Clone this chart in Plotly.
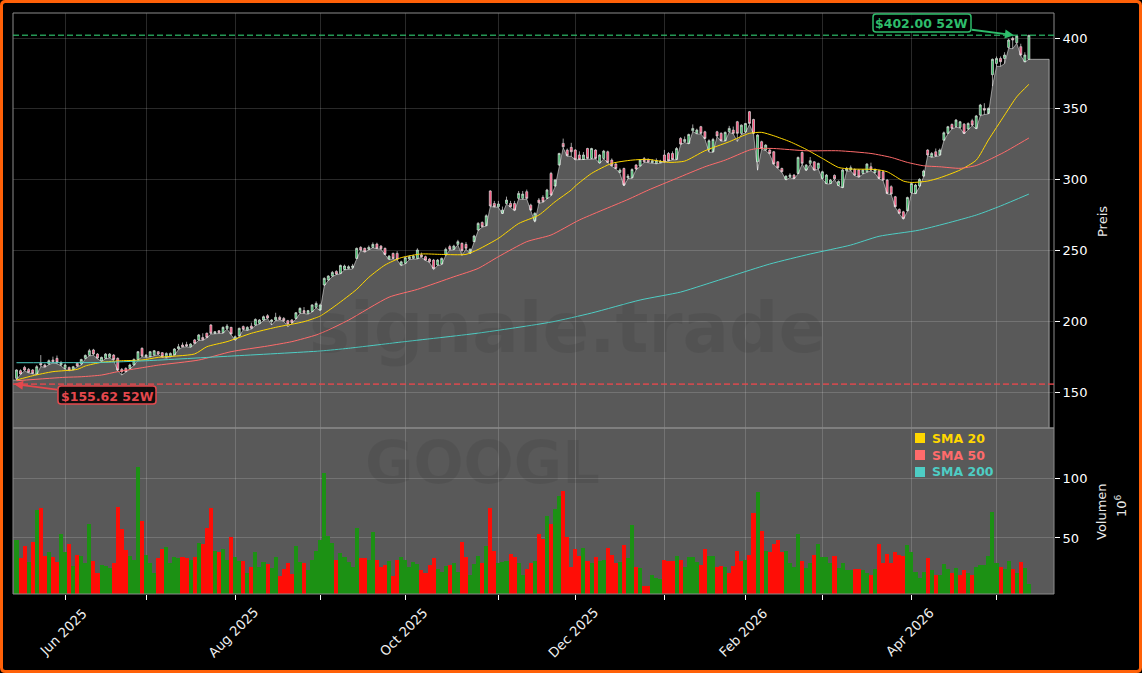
# GOOGL 52 week chart with candles, SMAs and volume
import plotly.graph_objects as go

W, H = 1142, 673

# daily candles
opens = [
    159.7,165.1,167.4,166,165.6,162.7,170.3,169.1,169.8,172.6,
    173.8,169.1,166.7,167.4,166,170.3,169.8,173.8,175.9,179.7,
    176.8,172.1,173.8,174.5,176.1,173.8,166,166.7,166.7,169.1,
    173,180.9,175,175,176.1,178.5,177.8,174.5,175,176.2,
    180.6,183.2,183.5,182,186.8,186.8,188.5,191.5,197.3,191.5,
    193.3,191.9,194.8,195.7,187.2,189.6,196.2,193.8,196.6,197.3,
    198.5,200.9,203.9,199.7,200.9,202.8,202,200.4,200.9,202,
    206,207.5,205.6,206.8,209.8,208,225.6,229.1,231.9,235.2,
    233.8,236.6,237.3,238,244.4,252.2,251.5,250.8,252.2,254.5,
    253.1,251.5,243.9,247.9,247.9,239.7,240.9,243.9,244.4,244.4,
    246.8,245.6,243.9,243.2,239.7,240.4,246.8,252.7,250.8,254.3,
    255,254.3,248,256.2,264.4,269.8,267.5,292,283.2,280.9,
    276.2,283.2,283.2,283.2,286.8,286.8,291.5,282,271,285.6,
    287.5,286.8,304.4,295.5,310.3,325.6,320.9,322.8,320.9,317.4,
    314.3,322,315,320.9,311.9,315,319.7,313.8,311,305.1,
    307.9,301.3,301.3,310.3,309.6,314.8,314.3,312,311.5,312,
    317.4,318.5,318.5,314.3,329.1,326.8,325.6,334.5,332.7,337.4,
    333.8,320.9,319.7,333.8,332.7,327.5,333.8,335,340.9,332.7,
    333.8,348,342.5,312.6,326.8,320.9,320.9,319.7,312.6,307.9,
    300.2,302,303.2,304.4,319.2,306.8,311.5,312.6,308,300.9,
    297.3,297.3,303,295.9,294.5,306.3,306.8,307.2,306.8,304.4,
    305.6,309.1,304.9,306.3,305.6,299.7,295,287.9,279,277.3,
    278,290.8,290.3,295.5,302.5,320.9,316.2,319.7,317.4,327.9,
    332.7,339,337.4,336.9,339.2,335.7,341.6,336.2,345.6,350.3,
    346.8,374.1,382.1,385.6,385.6,393.4,399.8,396.7,393.9,383.3,385,
]
highs = [
    166,166,168.5,167,166.2,169,176.1,170,173,175,
    175.8,172,170,168,168.5,171,173.5,176.5,180.5,180.5,
    177.5,175,177.5,177.5,176.8,174.5,167,167.5,170,173.8,
    179,181.5,176.8,179,179.7,179,178.2,178,178,181,
    184,185,185.5,184.5,187.5,191,191.5,192,198,193,
    193.8,196.3,198,196,190,195.5,197,196.5,199,202,
    201.5,204,205,201.5,206,204,203,201,201.5,206.5,
    209.8,210,208,212,214,212.5,231,232.5,235.5,236,
    240,240,239.5,240.5,252,253,252,253.5,255.7,255.5,
    253.8,252,246.8,248.5,249.5,242.8,245.5,246.5,247,251.5,
    248.5,246.3,244.5,244,244,245,252,254,254,257.5,
    255.7,256,251.5,261,270,270.5,275.5,292.5,285,285,
    281,288,285,285,292,292,293,283,277,287,
    289,293.5,305.5,300.5,319,329,322,326,321.5,320,
    319.5,322.5,322.5,321.5,318,321,320.5,315,312,308,
    308.5,304,308,311,314.5,316,315,314.5,315,314,
    321,319.5,320,323,330,330.5,332.5,339,336,338,
    334.5,328.5,329.5,334.5,333.5,334,338,337.5,341.5,339,
    340,348.5,343,332,327.5,325,321.5,320.3,313,308.5,
    303,304.5,304,316.3,320,311,316,313,312,306.3,
    304,300.5,303.7,299.5,307.5,309,310,308,307.5,307.5,
    311.7,312,308,307,306.3,300.5,296,288.5,279.7,278,
    288,298,297,301,307,321.5,319.5,322,322,334,
    338,339.7,342.8,341.5,340,340.5,343,345.7,353.5,354,
    351,385.5,387,387,390,399.5,401,402,396,390,402,
]
lows = [
    158.5,162.5,165,163.5,163,162.3,168,167.5,169.3,170.5,
    170,168.5,166,165,165.5,168,169,173.5,175.5,176,
    173.5,171.5,173.5,174,172.5,165,162,164,166.3,168.8,
    172.5,175,174.5,174.8,175.8,176.4,174.5,174,174.8,176,
    180,181.7,182,181.5,184,186.5,186.5,188.2,191,191,
    191.5,191.5,194.5,190.7,186.5,189.2,194,193.5,194.5,197,
    198,200.5,202,197.3,200.5,201,200,196.2,198.5,201.5,
    205.5,205.5,205,206.5,209.5,207.5,225,228.8,231.5,233,
    233.5,236.3,236.8,237,244,250,248.8,250.3,252,251.2,
    251,247,243.5,244,243.3,239.2,240.5,243.5,244,244,
    245.2,243,241.5,236.5,239.3,240,246.5,250.3,250.5,254,
    246.5,251,247.7,256,264,266.5,267.2,281,280.5,280.5,
    275.8,282.8,280.5,278,286.3,286,286.3,278,270,283.3,
    284,286.5,288.5,295,310,322.5,316.5,316.5,314,314,
    314,314.5,314.5,314.7,311.5,314.7,312,309.5,307.5,304.7,
    295.5,300.8,301,307,309.3,312.3,312,311.7,311.2,311.7,
    312.3,313,314,314,324.8,326.3,325.2,334,332.3,332.3,
    328.7,319.5,319.3,330.4,327.2,327.2,333.5,332.3,327,332,
    333,339,332.3,306.7,321.5,320.5,318,310.7,308,305.2,
    299.7,301.5,300.5,304,311,306.3,311,306.5,307.5,300.5,
    297,297,300.2,295.5,294.2,306,306.3,302.8,301.7,304,
    305.2,306.3,304.5,300.5,299.3,290,289.5,280.5,276,272,
    277.7,290.4,290,295,302,317,315.7,316.3,317,327.5,
    332.3,335.8,337,336.5,332.3,335.3,338.2,335.8,345.2,346,
    346.4,366,380,380,382,392.7,392.5,396.3,387.5,383,385,
]
closes = [
    165.6,162.7,165.5,163.9,163.2,167.9,169.1,167.9,172.1,171.4,
    170.7,170.7,169.1,165.5,167.9,168.4,173,175.9,179.2,176.8,
    174,174.5,176.8,176.8,173,165.5,164.4,164.4,169.1,173,
    178.5,175.4,176.1,178.5,179.2,176.8,175,177.3,177.3,180.4,
    182,182,182.5,183.9,184.4,190.3,187,188.6,191.5,192.6,
    191.9,195.7,196.6,191,189.1,195,194.3,195.7,195,201.3,
    200.9,203.2,202.3,200.9,202.8,201.3,200.4,198,199,206,
    209.1,206,207.5,211.5,212.6,211.5,230.3,231.9,234.5,233.3,
    239.4,239,238.5,239,251.5,250.3,249.1,252.2,254.3,251.5,
    251.2,247.2,246,244.4,243.7,242,244.9,245.6,246,250.3,
    245.6,243.2,242,237.3,243.2,244.4,250.8,250.8,253.1,256.2,
    249.8,251.5,250.8,260.2,269.1,266.8,274.5,281.4,280.9,282.8,
    278.5,285.6,280.9,278.5,290.3,289.8,286.8,278.5,276.2,283.7,
    284.4,292.7,289.1,299.7,318.5,323.2,317,319.7,314.3,314.3,
    317.4,315,322,315,317.4,320.2,312.2,309.8,307.9,306.8,
    296.2,302.5,307.2,307.5,313.8,312.6,312.4,313.4,313.4,313.1,
    312.6,313.4,314.3,322,325.1,328.4,331.9,336.2,335,332.7,
    329.1,327.5,328.4,330.8,327.5,333.4,336.2,332.7,332.7,338.5,
    339.7,339.7,332.7,331.5,322,324.4,318.5,311,308.4,305.6,
    302.5,303.2,300.9,315.7,311.5,310.3,313.4,306.8,311.5,305.6,
    303.2,299.7,300.6,298.8,306.8,307.9,308.4,303.2,302,306.8,
    311,306.8,307.2,300.9,299.7,290.3,289.8,280.9,276.2,272.6,
    287.4,297.3,296.2,300.2,306.1,317.4,318.5,316.7,320.9,333.1,
    337.4,336.2,342.1,340.9,332.7,339.7,338.5,345,352.7,349.1,
    350.3,385,385.6,383.3,388,398.6,398.6,401.4,388,388,402,
]

# volume in millions and the colour of each bar
volume = [
    48.6,33,43,30,47,73,75,35,38,34.4,
    30,53,38,45,27,36,35,29,62,31,
    21,27.5,27,25,29,76,57.5,40,35,32,
    109,64,36,29,21,33.6,40.5,42.5,29,34,
    33,34,33,32,34,46,45,58,75,39,
    38,41,32,51,34,31,31,21,26,38,
    25.5,30,28,25,34,18,24,29,20,43,
    30,29,23.4,31.7,39.5,48,104,51.7,46,31.7,
    37.5,34.4,30,26,58,33.6,33.6,31.7,55,32,
    26,27.8,31,18,32,34,31.7,25.5,30,28,
    23,21,27.8,33,24,21.7,27,27.8,29.4,22,
    47,34.4,19.4,28,35,29.4,43.6,75,39.5,29.4,
    29.7,30.5,37,34.4,29,19.4,24,29.4,31,53,
    49.4,68,61.7,74,85,89.4,51,26,41,35,
    41.7,31,29,34,30.8,32,42,36,29,30,
    44,33,60.6,26,25,10,10,19,17,16,
    32,31,31,35,32,26,34,34,29.7,27.8,
    40.5,35,35,26,26.7,26,21,26.7,39.5,31,
    32,36,71,88.6,56,39.5,38,45,48,38,
    39.5,29,25.5,53,31,25,29.4,36,45,34,
    34,29.4,35,25,29.4,23,23,24,24,23.4,
    21,19.4,24,45,29.4,37,29.4,38,36,35,
    44,38,21.6,17,22,33,23,19,19,28,
    24,20.5,25,19,23,20.6,19,26,27.8,27.8,
    35,71.7,29.4,26,24,31,24,21,30,25,11.7,
]
volume_dir = (
    "GRRGRGRRGR" "RGGRGRGGGR" "RGGGRRRRGG" "GRGGGRRGGG" "GRRGRGRRRG"
    "RGGRGGRGRG" "GGRGGRRRRG" "GRGGGGGGGR" "GGGGGRRGGR" "RRGRRGGGGG"
    "RRRRGGGRGG" "RRGGGRGRRG" "GGRRGGRRGR" "RGRGGRRRRR" "GRGRGGRRRG"
    "RGGRGRRGGG" "RRRGRGGGGR" "RGGRRGRRRR" "GRRGRGRRRR" "GGGGRGGRGG"
    "GGRGGGGRRG" "GRGRRRRRRR" "GGGGGRGRGG" "GRGRRGRGGG" "GGGRGGRGRGG"
)

# moving averages: bar number and value
sma20_x = [0, 4, 9, 15, 17, 21, 26, 31, 35, 44, 47, 52, 58, 64, 71, 75, 79, 84, 87, 91, 95,
           100, 105, 111, 114, 119, 124, 129, 133, 137, 138, 142, 147, 152, 156, 161, 165,
           170, 176, 181, 184, 187, 191, 195, 199, 203, 206, 212, 215, 219, 221, 225, 228,
           233, 237, 240, 244, 247, 250]
sma20 = [158.5, 161.5, 164.4, 166, 168.4, 171, 172.1, 172.6, 174.5, 176.9, 182, 185.6, 191.5,
         195.7, 199.7, 203.7, 211.5, 222.5, 231, 239.7, 244.9, 247.5, 247.2, 247.2, 250.7,
         258.5, 269, 275, 284.4, 292.7, 295.5, 304.4, 311.5, 313.8, 314.3, 312.2, 313.1,
         320.4, 326.8, 332.7, 333.4, 331, 326.8, 321.4, 315, 308.6, 307.5, 307.2, 305.6,
         299, 298, 299, 301.3, 306.8, 313.8, 328, 345.6, 358.5, 367.3]
sma50_x = [0, 12, 16, 21, 25, 30, 35, 45, 53, 62, 68, 74, 77, 82, 92, 99, 108, 114, 119, 126,
           132, 139, 151, 156, 163, 170, 175, 181, 183, 187, 195, 203, 211, 216, 220, 224,
           228, 233, 237, 240, 244, 247, 250]
sma50 = [158, 160.4, 160.8, 162, 164.4, 166.7, 169, 172.6, 178.5, 182.5, 185.6, 190.3, 193.8,
         200.8, 217, 222.5, 231.4, 237.3, 245.6, 256.2, 260.9, 271.5, 286, 292.6, 300.9,
         309.1, 313.8, 320.9, 322, 322, 320.4, 320.4, 318.5, 315.7, 312.2, 309.8, 309.1,
         308, 310, 313.8, 319.5, 324.4, 329.4]
sma200_x = [0, 21, 32, 53, 75, 82, 95, 114, 132, 142, 154, 164, 169, 186, 196, 206, 213, 223,
            237, 243, 250]
sma200 = [170.7, 170.9, 172.1, 175.4, 179, 180.9, 185.3, 191.6, 199.4, 205.8, 215, 220.6, 225,
          240.4, 247.5, 253.8, 260, 264.4, 275, 281.4, 289.8]

high_52w = 402.00
low_52w = 155.62

tick_pos = [12, 32, 54, 75, 96, 119, 138, 160, 180, 199, 221, 242]
tick_names = {12: "Jun 2025", 54: "Aug 2025", 96: "Oct 2025",
              138: "Dec 2025", 180: "Feb 2026", 221: "Apr 2026"}

FONT = "DejaVu Sans"
GREEN = "#2ebd6b"
RED = "#e5484d"
SMA_COLORS = {"SMA 20": "#FFD700", "SMA 50": "#FF6B6B", "SMA 200": "#4ECDC4"}
GRID = "rgba(255,255,255,0.16)"


# pixel helpers for the things that sit on the page, not on the data
def px(x):
    return x / W


def py(y):
    return 1 - y / H


def round_box(x0, y0, x1, y1, r, **kw):
    path = (f"M {px(x0 + r)} {py(y0)} L {px(x1 - r)} {py(y0)} Q {px(x1)} {py(y0)} {px(x1)} {py(y0 + r)} "
            f"L {px(x1)} {py(y1 - r)} Q {px(x1)} {py(y1)} {px(x1 - r)} {py(y1)} "
            f"L {px(x0 + r)} {py(y1)} Q {px(x0)} {py(y1)} {px(x0)} {py(y1 - r)} "
            f"L {px(x0)} {py(y0 + r)} Q {px(x0)} {py(y0)} {px(x0 + r)} {py(y0)} Z")
    return dict(type="path", xref="paper", yref="paper", path=path, **kw)


def page_text(text, x, y, **kw):
    return dict(text=text, xref="paper", yref="paper", x=px(x), y=py(y), xanchor="center",
                yanchor="middle", showarrow=False, **kw)


fig = go.Figure()

# grey area under the lows, runs a little past the last bar
area_x = [-1] + list(range(len(lows))) + [251, 252, 253, 254, 255, 255]
area_y = [lows[0]] + lows + [lows[-1]] * 5 + [0]
fig.add_trace(go.Scatter(x=area_x, y=area_y, mode="lines", fill="tozeroy",
                         fillcolor="rgba(255,255,255,0.35)",
                         line=dict(color="rgba(255,255,255,0.5)", width=1),
                         hoverinfo="skip", showlegend=False))

idx = list(range(len(closes)))
fig.add_trace(go.Candlestick(x=idx, open=opens, high=highs, low=lows, close=closes,
                             whiskerwidth=0, showlegend=False,
                             increasing=dict(line=dict(color="#dddddd", width=0.7), fillcolor="#3fbf6a"),
                             decreasing=dict(line=dict(color="#dddddd", width=0.7), fillcolor="#ff4d7a")))

for name, xs, ys in [("SMA 20", sma20_x, sma20), ("SMA 50", sma50_x, sma50), ("SMA 200", sma200_x, sma200)]:
    fig.add_trace(go.Scatter(x=xs, y=ys, mode="lines", name=name, showlegend=False,
                             line=dict(color=SMA_COLORS[name], width=1, shape="spline", smoothing=0.6)))

bar_colors = ["#1c9114" if d == "G" else "#ff0d06" for d in volume_dir]
fig.add_trace(go.Bar(x=idx, y=volume, width=1, marker=dict(color=bar_colors, line=dict(width=0)),
                     yaxis="y2", showlegend=False))

fig.update_layout(
    width=W, height=H,
    margin=dict(l=0, r=0, t=0, b=0),
    paper_bgcolor="black", plot_bgcolor="black",
    font=dict(family=FONT, color="white", size=13),
    bargap=0,
    xaxis=dict(domain=[px(13), px(1054)], range=[-0.86, 256.2], anchor="y2",
               tickmode="array", tickvals=tick_pos, showticklabels=False,
               ticks="outside", ticklen=5, tickcolor="white", gridcolor=GRID, gridwidth=1,
               showgrid=True, zeroline=False, rangeslider=dict(visible=False)),
    yaxis=dict(domain=[py(428), py(13)], range=[124.6, 417.7], side="right", anchor="x",
               tickvals=[150, 200, 250, 300, 350, 400], ticks="outside", ticklen=5,
               tickcolor="white", gridcolor=GRID, zeroline=False),
    yaxis2=dict(domain=[py(594), py(428)], range=[3.3, 141.7], side="right", anchor="x",
                tickvals=[50, 100], ticks="outside", ticklen=5,
                tickcolor="white", gridcolor=GRID, zeroline=False),
)

shapes = [
    # lower panel background
    dict(type="rect", xref="x domain", yref="y2 domain", x0=0, x1=1, y0=0, y1=1,
         fillcolor="#595959", line=dict(width=0), layer="below"),
    # panel borders
    dict(type="rect", xref="x domain", yref="y domain", x0=0, x1=1, y0=0, y1=1,
         line=dict(color="#8c8c8c", width=1)),
    dict(type="rect", xref="x domain", yref="y2 domain", x0=0, x1=1, y0=0, y1=1,
         line=dict(color="#8c8c8c", width=1)),
    # 52 week lines
    dict(type="line", xref="x domain", yref="y", x0=0, x1=1, y0=high_52w, y1=high_52w,
         line=dict(color=GREEN, width=1.6, dash="6px,3px"), opacity=0.8),
    dict(type="line", xref="x domain", yref="y", x0=0, x1=1, y0=low_52w, y1=low_52w,
         line=dict(color=RED, width=1.6, dash="6px,3px"), opacity=0.8),
    # label boxes
    round_box(873, 14, 971, 32, 3, fillcolor="rgba(0,0,0,0.85)", line=dict(color=GREEN, width=1.5)),
    round_box(58, 386, 156, 404, 3, fillcolor="rgba(0,0,0,0.85)", line=dict(color=RED, width=1.5)),
    # page frame
    round_box(1.5, 1.5, W - 1.5, H - 1.5, 4, line=dict(color="#ff6108", width=3)),
]

annotations = [
    # watermarks
    page_text("<b>signale.trade</b>", 567, 328, font=dict(size=69, color="rgba(0,0,0,0.07)")),
    page_text("<b>GOOGL</b>", 482, 462, font=dict(size=59, color="rgba(0,0,0,0.07)")),
    # 52 week labels
    dict(text=f"<b>${high_52w:.2f} 52W</b>", xref="x", yref="y", x=246.3, y=high_52w,
         ax=-92, ay=-12, axref="pixel", ayref="pixel", arrowhead=2, arrowsize=1, arrowwidth=1.8,
         arrowcolor=GREEN, font=dict(size=12.5, color=GREEN), borderpad=3),
    dict(text=f"<b>${low_52w:.2f} 52W</b>", xref="x", yref="y", x=-0.6, y=low_52w,
         ax=93, ay=12, axref="pixel", ayref="pixel", arrowhead=2, arrowsize=1, arrowwidth=1.8,
         arrowcolor=RED, font=dict(size=12.5, color=RED), borderpad=3),
    # axis titles
    page_text("Preis", 1103, 222, textangle=-90, font=dict(size=13, color="#e8e8e8")),
    page_text("Volumen", 1101, 512, textangle=-90, font=dict(size=13, color="#e8e8e8")),
    page_text("10<sup>6</sup>", 1121, 506, textangle=-90, font=dict(size=13, color="#e8e8e8")),
]

# month labels, turned around their own centre
for pos, name in tick_names.items():
    annotations.append(dict(text=name, xref="x", yref="paper", x=pos, xshift=-2, y=py(632),
                            xanchor="center", yanchor="middle", textangle=-45, showarrow=False,
                            font=dict(size=13.3, color="#f0f0f0")))

# legend in the volume panel
for (name, color), y in zip(SMA_COLORS.items(), [438, 455, 472]):
    shapes.append(dict(type="rect", xref="paper", yref="paper", x0=px(915), x1=px(925),
                       y0=py(y + 5), y1=py(y - 5), fillcolor=color, line=dict(width=0)))
    annotations.append(dict(text=f"<b>{name}</b>", xref="paper", yref="paper", x=px(930), y=py(y),
                            xanchor="left", yanchor="middle", showarrow=False,
                            font=dict(size=12.5, color=color)))

fig.update_layout(shapes=shapes, annotations=annotations)

fig.write_html("out.html", config={"displayModeBar": False},
               post_script="document.body.style.margin='0';document.body.style.background='black';")
